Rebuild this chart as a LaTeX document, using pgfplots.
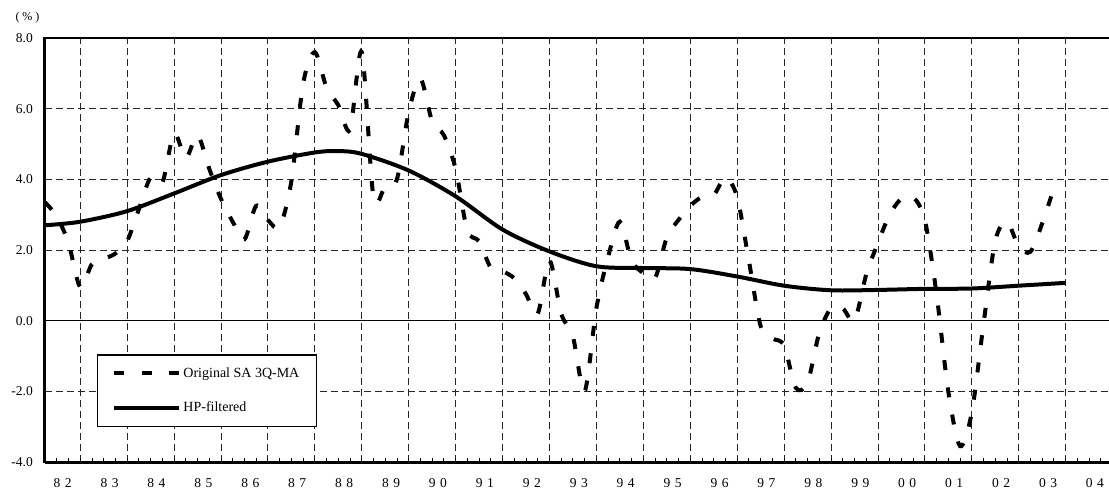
\documentclass[border=0pt]{standalone}
\usepackage{fontspec}
\setmainfont{Liberation Serif}
\usepackage{pgfplots}
\pgfplotsset{compat=1.18}
\newcommand{\yr}[2]{#1\kern4.5pt#2}
\begin{document}
\begin{tikzpicture}
\begin{axis}[
  at={(0pt,0pt)}, anchor=south west,
  scale only axis, width=1064pt, height=424pt,
  xmin=0, xmax=90.7, ymin=-4, ymax=8,
  clip=false,
  axis line style={draw=none},
  tick pos=left,
  tick align=inside,
  xtick={3,7,...,87}, xticklabels={},
  minor xtick={0,1,...,90},
  major tick length=4pt, minor tick length=4pt,
  xtick style={black, line width=0.8pt},
  minor x tick style={black, line width=0.8pt},
  extra x ticks={1.5,5.5,...,89.5},
  extra x tick labels={\yr82,\yr83,\yr84,\yr85,\yr86,\yr87,\yr88,\yr89,\yr90,\yr91,\yr92,\yr93,\yr94,\yr95,\yr96,\yr97,\yr98,\yr99,\yr00,\yr01,\yr02,\yr03,\yr04},
  extra x tick style={grid=none, major tick length=0pt,
     xticklabel style={anchor=north, inner sep=0pt, yshift=-16.5pt, font=\fontsize{13.5}{16}\selectfont}},
  ytick={-4,-2,...,8},
  yticklabels={-4.0,-2.0,0.0,2.0,4.0,6.0,8.0},
  ytick style={draw=none},
  yticklabel style={anchor=east, inner sep=0pt, xshift=-12pt, font=\fontsize{13.5}{16}\selectfont},
  xmajorgrids, ymajorgrids,
  major grid style={black!85, line width=0.8pt, dash pattern=on 7pt off 4pt},
  legend style={at={(0.0486,0.2547)}, anchor=north west, draw=black, line width=1.5pt,
     fill=white, font=\fontsize{14}{16}\selectfont, inner xsep=15pt, inner ysep=11pt,
     row sep=19pt, cells={anchor=west}},
  legend image code/.code={\draw[#1] (0pt,0pt) -- (65pt,0pt);},
]
\addplot[black, line width=4pt, dash pattern=on 10pt off 17.5pt, smooth] coordinates {
(0,3.35) (1,2.95) (2,2.2) (3,0.95) (4,1.6) (5,1.75) (6,1.9) (7,2.25) (8,3.15) (9,4.05)
(10,3.9) (11,5.3) (12,4.6) (13,5.25) (14,4.3) (15,3.45) (16,2.8) (17,2.3) (18,3.25) (19,2.85)
(20,2.65) (21,3.95) (22,6.7) (23,7.6) (24,6.6) (25,6.1) (26,5.4) (27,7.6) (28,3.5) (29,3.8)
(30,4.0) (31,5.9) (32,6.85) (33,5.65) (34,5.25) (35,4.3) (36,2.55) (37,2.25) (38,1.5) (39,1.4)
(40,1.2) (41,0.75) (42,0.2) (43,1.7) (44,0.2) (45,-0.45) (46,-2.0) (47,0.35) (48,1.8) (49,2.8)
(50,1.7) (51,1.35) (52,1.2) (53,2.35) (54,2.85) (55,3.25) (56,3.5) (57,3.55) (58,4.05) (59,3.5)
(60,1.7) (61,-0.15) (62,-0.5) (63,-0.7) (64,-1.9) (65,-1.75) (66,-0.35) (67,0.35) (68,0.35) (69,0.0)
(70,1.3) (71,2.2) (72,3.0) (73,3.45) (74,3.5) (75,2.85) (76,0.75) (77,-2.0) (78,-3.55) (79,-2.6)
(80,-0.1) (81,2.25) (82,2.8) (83,2.1) (84,1.95) (85,2.75) (86,3.75)
};
\addlegendentry{Original SA 3Q-MA}
\addplot[black, line width=4pt, smooth] coordinates {
(0,2.70) (3,2.80) (7,3.10) (11,3.60) (15,4.12) (19,4.50) (23,4.76) (25,4.80) (27,4.72)
(31,4.25) (35,3.52) (39,2.58) (43,1.96) (47,1.54) (51,1.49) (55,1.46) (59,1.25) (63,0.99)
(67,0.86) (71,0.87) (75,0.90) (79,0.91) (83,0.99) (87,1.07)
};
\addlegendentry{HP-filtered}
\draw[black, line width=1.5pt] (axis cs:0,0) -- (axis cs:90.7,0);
\draw[black, line width=3pt] (rel axis cs:0,-0.0035) -- (rel axis cs:0,1.002);
\draw[black, line width=3pt] (rel axis cs:0,0) -- (rel axis cs:1,0);
\draw[black, line width=2pt] (rel axis cs:0,1) -- (rel axis cs:1,1);
\node[font=\fontsize{12}{14}\selectfont] at (rel axis cs:-0.01645,1.0472) {( \% )};
\end{axis}
\pgfresetboundingbox
\path[use as bounding box] (-45pt,-31pt) rectangle (1064pt,462pt);
\end{tikzpicture}
\end{document}
